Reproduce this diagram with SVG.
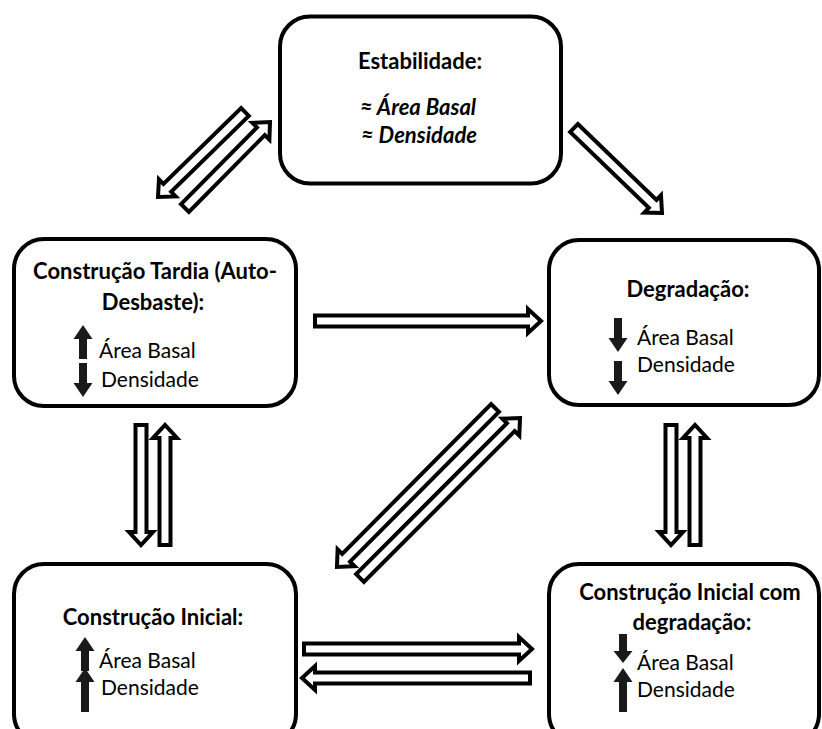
<svg xmlns="http://www.w3.org/2000/svg" xmlns:xlink="http://www.w3.org/1999/xlink" width="822" height="729" viewBox="0 0 822 729">
<style>
.box{fill:#fff;stroke:#000;stroke-width:4}
.blk{fill:#fff;stroke:#000;stroke-width:4;stroke-linejoin:miter}
.t{font-family:Lato,"Liberation Sans",sans-serif;font-size:21px;fill:#000}
.b{font-weight:bold;font-size:22px}
.i{font-style:italic;font-weight:bold;font-size:22px}
.c{text-anchor:middle}
.ico{fill:#1a1a1a}
</style>
<defs>
<path id="up" d="M0,0 L9.5,14 H4 V34 H-4 V14 H-9.5 Z"/>
<path id="upL" d="M0,0 L9.5,14 H4 V44 H-4 V14 H-9.5 Z"/>
</defs>
<rect width="822" height="729" fill="#fff"/>
<g id="connectors">
<path class="blk" transform="translate(245,112) rotate(135.67)" d="M0,-5.5 H108.6 V-12 L121.6,0 L108.6,12 V5.5 H0 Z"/>
<path class="blk" transform="translate(185,208) rotate(-45.33)" d="M0,-5.5 H107.9 V-12 L120.9,0 L107.9,12 V5.5 H0 Z"/>
<path class="blk" transform="translate(574,128) rotate(43.99)" d="M0,-5.5 H109.3 V-12 L122.3,0 L109.3,12 V5.5 H0 Z"/>
<path class="blk" transform="translate(315,321)" d="M0,-5.5 H213 V-12 L226,0 L213,12 V5.5 H0 Z"/>
<path class="blk" transform="translate(495,408) rotate(134.82)" d="M0,-5.5 H211.2 V-12 L224.2,0 L211.2,12 V5.5 H0 Z"/>
<path class="blk" transform="translate(360,578) rotate(-45)" d="M0,-5.5 H213.3 V-12 L226.3,0 L213.3,12 V5.5 H0 Z"/>
<path class="blk" transform="translate(304,649)" d="M0,-5.5 H215 V-12 L228,0 L215,12 V5.5 H0 Z"/>
<path class="blk" transform="translate(530,678) rotate(180)" d="M0,-5.5 H215 V-12 L228,0 L215,12 V5.5 H0 Z"/>
<path class="blk" transform="translate(141,425) rotate(90)" d="M0,-5.5 H107 V-12 L120,0 L107,12 V5.5 H0 Z"/>
<path class="blk" transform="translate(165,545) rotate(-90)" d="M0,-5.5 H107 V-12 L120,0 L107,12 V5.5 H0 Z"/>
<path class="blk" transform="translate(671,425) rotate(90)" d="M0,-5.5 H107 V-12 L120,0 L107,12 V5.5 H0 Z"/>
<path class="blk" transform="translate(695,545) rotate(-90)" d="M0,-5.5 H107 V-12 L120,0 L107,12 V5.5 H0 Z"/>
</g>
<g id="estabilidade">
<rect class="box" x="280" y="16.5" width="281" height="167" rx="30"/>
<text class="t b c" x="420" y="69">Estabilidade:</text>
<text class="t i c" x="418" y="115">≈ Área Basal</text>
<text class="t i c" x="419" y="143">≈ Densidade</text>
</g>
<g id="construcao-tardia">
<rect class="box" x="14" y="239" width="282" height="167" rx="30"/>
<text class="t b c" x="155" y="279">Construção Tardia (Auto-</text>
<text class="t b c" x="153" y="310">Desbaste):</text>
<use href="#up" class="ico" transform="translate(83,325)"/>
<use href="#up" class="ico" transform="translate(83,397) scale(1,-1)"/>
<text class="t" x="99" y="358">Área Basal</text>
<text class="t" x="101" y="387">Densidade</text>
</g>
<g id="degradacao">
<rect class="box" x="549" y="240" width="270" height="165" rx="30"/>
<text class="t b c" x="688" y="297">Degradação:</text>
<use href="#up" class="ico" transform="translate(618,352) scale(1,-1)"/>
<use href="#up" class="ico" transform="translate(618,395) scale(1,-1)"/>
<text class="t" x="637" y="345">Área Basal</text>
<text class="t" x="637" y="372">Densidade</text>
</g>
<g id="construcao-inicial">
<rect class="box" x="14" y="564" width="282" height="180" rx="30"/>
<text class="t b c" x="153" y="625">Construção Inicial:</text>
<use href="#up" class="ico" transform="translate(85,637)"/>
<use href="#upL" class="ico" transform="translate(85,668)"/>
<text class="t" x="99" y="668">Área Basal</text>
<text class="t" x="101" y="695">Densidade</text>
</g>
<g id="construcao-inicial-degradacao">
<rect class="box" x="549" y="564" width="270" height="180" rx="30"/>
<text class="t b c" x="690" y="600">Construção Inicial com</text>
<text class="t b c" x="692" y="630">degradação:</text>
<use href="#up" class="ico" transform="translate(623,663) scale(1,-0.85)"/>
<use href="#upL" class="ico" transform="translate(623,668)"/>
<text class="t" x="637" y="670">Área Basal</text>
<text class="t" x="637" y="697">Densidade</text>
</g>
</svg>
